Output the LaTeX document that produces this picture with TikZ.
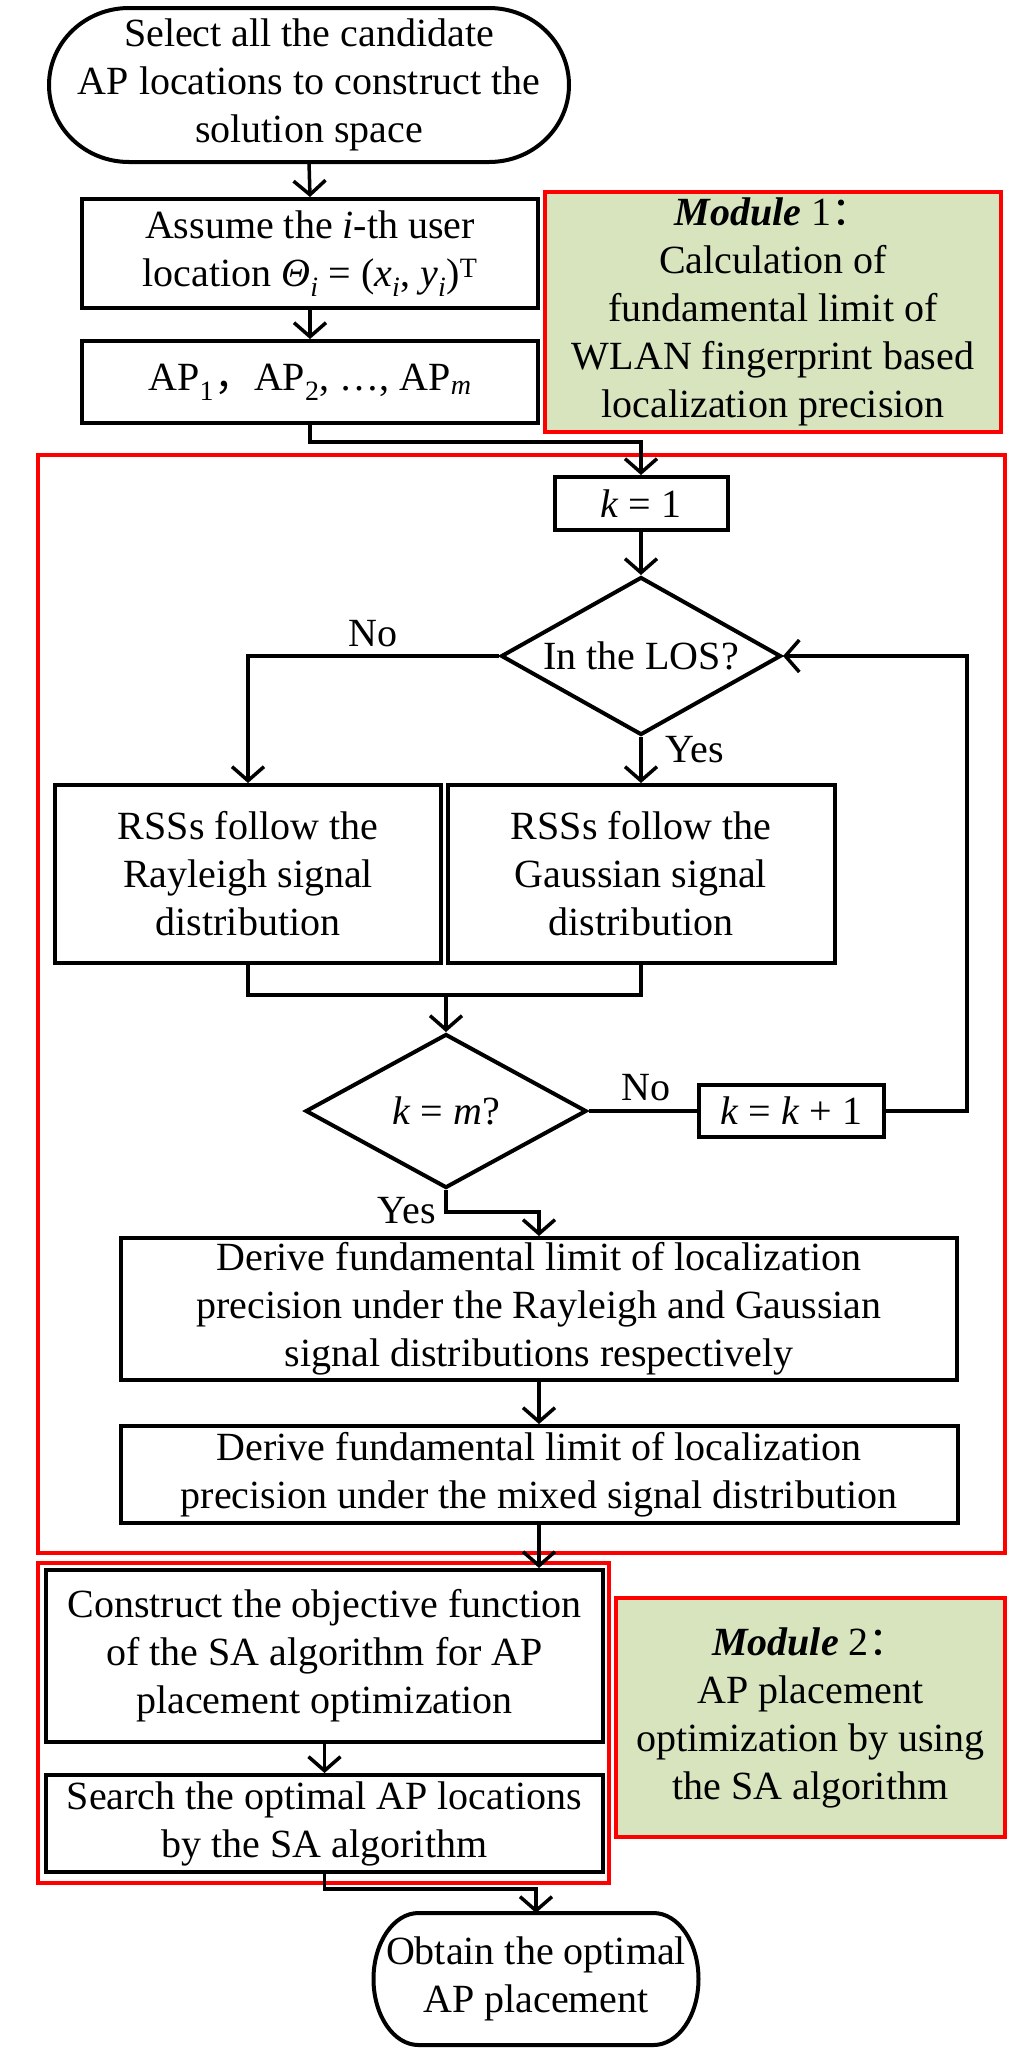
\documentclass[tikz,border=0pt]{standalone}
\usepackage{fontspec}
\setmainfont{Liberation Serif}
\newfontfamily\cjk{Noto Sans CJK SC}
\usetikzlibrary{arrows.meta,shapes.geometric}
\definecolor{modgreen}{HTML}{D7E4BD}
\definecolor{frred}{HTML}{FF0000}
\begin{document}
\begin{tikzpicture}[x=1pt,y=-1pt,
  every node/.style={font=\fontsize{40}{48}\selectfont, align=center, inner sep=0pt},
  bx/.style={draw, line width=4pt, rectangle},
  dia/.style={draw, line width=4pt, diamond},
  modbox/.style={draw=frred, fill=modgreen, line width=4pt, rectangle},
  frame/.style={draw=frred, line width=4pt},
  conn/.style={line width=3.5pt},
  arr/.style={line width=3.5pt, -{Straight Barb[length=14pt,width=32pt]}},
  tline/.style={line width=4pt},
  lbl/.style={font=\fontsize{40}{48}\selectfont}
]
\useasboundingbox (0,0) rectangle (1024,2057);
\fill[white] (0,0) rectangle (1024,2057);

% red frames
\draw[frame] (38,455) rectangle (1005,1553);
\draw[frame] (38,1563) rectangle (609,1883);

% start terminal
\node[minimum width=520pt, minimum height=154pt, outer sep=0pt] (st) at (309,85)
  {Select all the candidate\\AP locations to construct the\\solution space};
\draw[tline] ([xshift=80pt]st.north west) -- ([xshift=-80pt]st.north east)
  arc[start angle=90,end angle=-90,x radius=80pt,y radius=77pt]
  -- ([xshift=80pt]st.south west)
  arc[start angle=270,end angle=90,x radius=80pt,y radius=77pt] -- cycle;

\node[bx, minimum width=456pt, minimum height=109pt] (as) at (310,253.5)
  {Assume the \textit{i}-th user\\location \textit{Θ}\textsubscript{\textit{i}} = (\textit{x}\textsubscript{\textit{i}}, \textit{y}\textsubscript{\textit{i}})\textsuperscript{T}};
\node[bx, minimum width=456pt, minimum height=82pt] (ap) at (310,382)
  {AP\textsubscript{1}{\cjk ，}AP\textsubscript{2}, …, AP\textsubscript{\textit{m}}};
\node[modbox, minimum width=456pt, minimum height=240pt] (m1) at (773,312)
  {\textbf{\textit{Module}} 1{\cjk ：}\\Calculation of\\fundamental limit of\\WLAN fingerprint based\\localization precision};

\node[bx, minimum width=173pt, minimum height=53pt] (k1) at (641,503.5) {\textit{k} = 1};
\node[dia, minimum width=280pt, minimum height=158pt, aspect=1.77] (los) at (641,656) {In the LOS?};
\node[bx, minimum width=386pt, minimum height=178pt] (ray) at (248,874)
  {RSSs follow the\\Rayleigh signal\\distribution};
\node[bx, minimum width=387pt, minimum height=178pt] (gau) at (641,874)
  {RSSs follow the\\Gaussian signal\\distribution};
\node[dia, minimum width=281pt, minimum height=154pt, aspect=1.82] (km) at (446,1111) {\textit{k} = \textit{m}?};
\node[bx, minimum width=185pt, minimum height=52pt] (kk) at (791.5,1111) {\textit{k} = \textit{k} + 1};
\node[bx, minimum width=836pt, minimum height=142pt] (d1) at (539,1309)
  {Derive fundamental limit of localization\\precision under the Rayleigh and Gaussian\\signal distributions respectively};
\node[bx, minimum width=837pt, minimum height=97pt] (d2) at (539,1474.5)
  {Derive fundamental limit of localization\\precision under the mixed signal distribution};

\node[bx, minimum width=557pt, minimum height=172pt] (co) at (324.5,1656)
  {Construct the objective function\\of the SA algorithm for AP\\placement optimization};
\node[bx, minimum width=557pt, minimum height=97pt] (se) at (324.5,1823.5)
  {Search the optimal AP locations\\by the SA algorithm};
\node[modbox, minimum width=389pt, minimum height=239pt] (m2) at (810.5,1717.5)
  {\textbf{\textit{Module}} 2{\cjk ：}\\AP placement\\optimization by using\\the SA algorithm};

% end terminal
\node[minimum width=325pt, minimum height=132pt, outer sep=0pt] (ob) at (536,1979)
  {Obtain the optimal\\AP placement};
\draw[tline] ([xshift=45pt]ob.north west) -- ([xshift=-45pt]ob.north east)
  arc[start angle=90,end angle=-90,x radius=45pt,y radius=66pt]
  -- ([xshift=45pt]ob.south west)
  arc[start angle=270,end angle=90,x radius=45pt,y radius=66pt] -- cycle;

% connectors
\draw[arr] (st.south) -- (as.north);
\draw[arr] (as.south) -- (ap.north);
\draw[arr] (ap.south) -- ++(0,17) -| (k1.north);
\draw[arr] (k1.south) -- (los.north);
\draw[arr] (los.west) -| (ray.north);
\draw[arr] (los.south) -- (gau.north);
\coordinate (mg) at (446,995);
\draw[conn] (ray.south) |- (mg) -| (gau.south);
\draw[arr] (mg) -- (km.north);
\draw[conn] (km.east) -- (kk.west);
\draw[arr] (kk.east) -- ++(81,0) |- (los.east);
\draw[arr] (km.south) -- ++(0,22) -| (d1.north);
\draw[arr] (d1.south) -- (d2.north);
\draw[arr] (d2.south) -- (d2.south |- co.north);
\draw[arr] (co.south) -- (se.north);
\draw[arr] (se.south) -- ++(0,15) -| (ob.north);

% labels
\node[lbl] (lno1) at (373,634) {No};
\node[lbl] (lyes1) at (695,750) {Yes};
\node[lbl] (lno2) at (646,1088) {No};
\node[lbl] (lyes2) at (407,1211) {Yes};
\end{tikzpicture}
\end{document}
